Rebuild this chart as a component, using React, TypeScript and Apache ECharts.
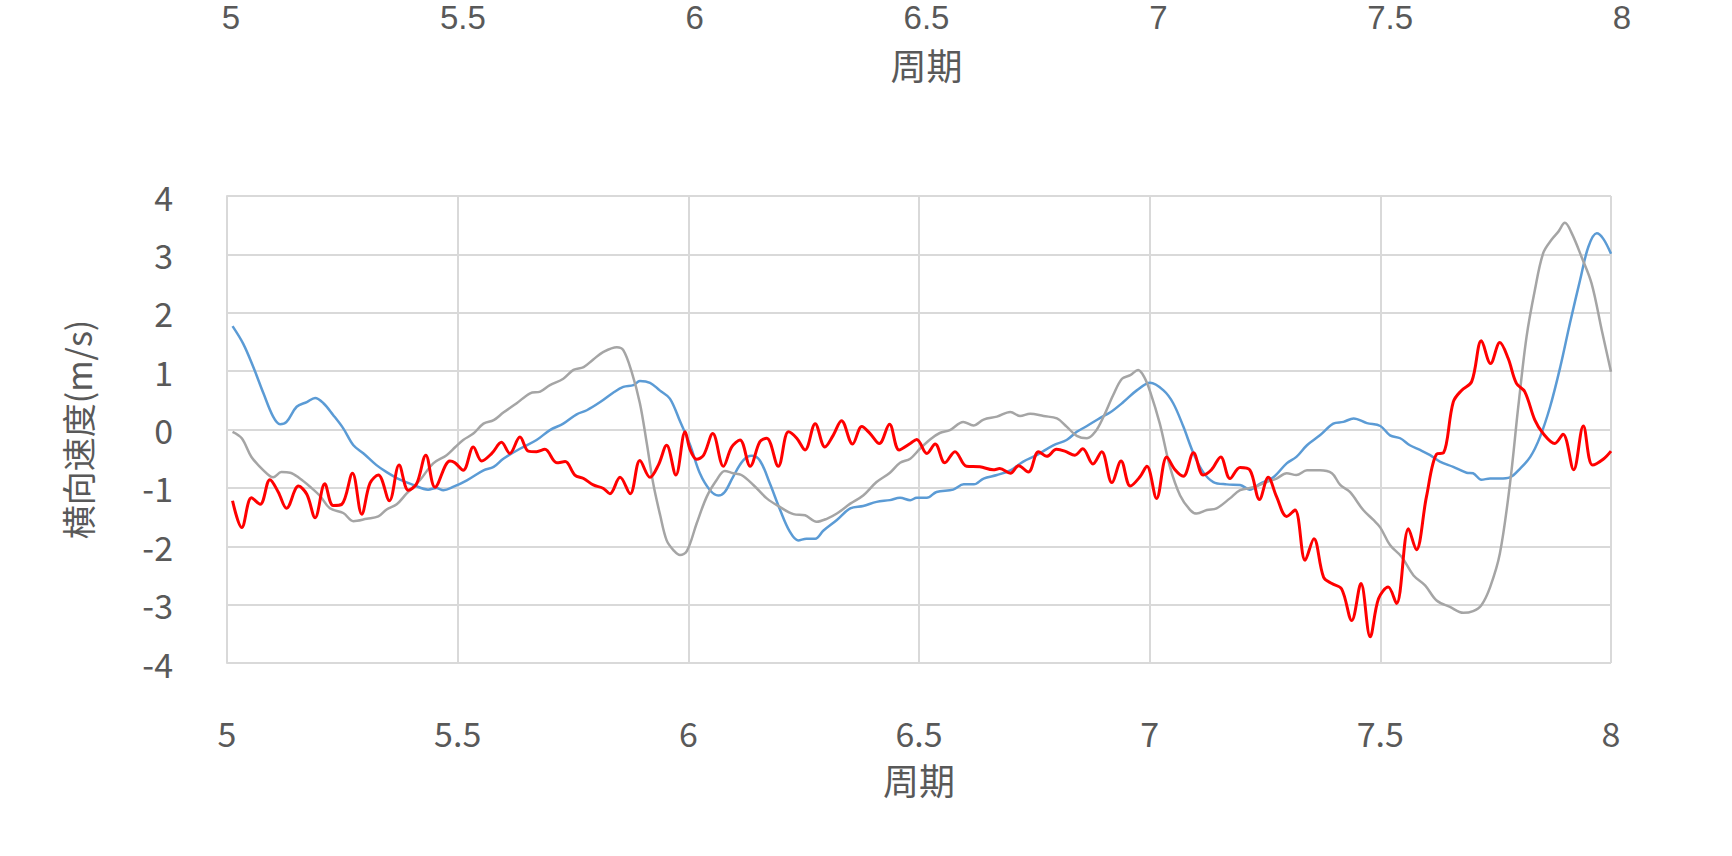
import { useEffect, useRef } from "react";
import * as echarts from "echarts";

const X_MIN = 5;
const X_MAX = 8;
const X_STEP = 0.5;
const Y_MIN = -4;
const Y_MAX = 4;
const Y_STEP = 1;
const xAxisTitle = "周期";
const yAxisTitle = "横向速度(m/s)";

const blueSeries: [number, number][] = [
  [5.012, 1.77], [5.035, 1.47], [5.057, 1.07], [5.079, 0.62], [5.1, 0.22], [5.115, 0.09], [5.129, 0.13],
  [5.151, 0.39], [5.173, 0.47], [5.191, 0.54], [5.209, 0.45], [5.23, 0.25], [5.252, 0.02], [5.274, -0.27],
  [5.296, -0.41], [5.324, -0.61], [5.346, -0.73], [5.375, -0.86], [5.404, -0.95], [5.436, -1.03],
  [5.454, -1.0], [5.469, -1.04], [5.491, -0.98], [5.52, -0.87], [5.556, -0.7], [5.578, -0.64],
  [5.599, -0.5], [5.635, -0.33], [5.671, -0.18], [5.7, -0.01], [5.729, 0.1], [5.758, 0.26], [5.78, 0.33],
  [5.809, 0.47], [5.837, 0.63], [5.859, 0.73], [5.881, 0.76], [5.895, 0.83], [5.917, 0.8], [5.938, 0.67],
  [5.96, 0.53], [5.982, 0.14], [6.004, -0.27], [6.025, -0.75], [6.047, -1.04], [6.065, -1.13],
  [6.079, -1.07], [6.097, -0.81], [6.119, -0.53], [6.137, -0.45], [6.155, -0.53], [6.177, -0.93],
  [6.199, -1.38], [6.22, -1.75], [6.238, -1.9], [6.256, -1.87], [6.275, -1.87], [6.293, -1.73],
  [6.322, -1.55], [6.351, -1.35], [6.379, -1.31], [6.408, -1.24], [6.437, -1.21], [6.459, -1.17],
  [6.481, -1.21], [6.495, -1.17], [6.517, -1.17], [6.538, -1.07], [6.574, -1.03], [6.597, -0.94],
  [6.619, -0.94], [6.64, -0.84], [6.669, -0.78], [6.698, -0.7], [6.726, -0.55], [6.755, -0.44],
  [6.791, -0.27], [6.82, -0.18], [6.842, -0.04], [6.864, 0.06], [6.893, 0.2], [6.914, 0.29],
  [6.943, 0.47], [6.972, 0.67], [7.001, 0.8], [7.03, 0.67], [7.051, 0.45], [7.073, 0.05], [7.095, -0.41],
  [7.116, -0.73], [7.138, -0.9], [7.167, -0.94], [7.196, -0.95], [7.217, -1.03], [7.239, -0.93],
  [7.268, -0.82], [7.297, -0.58], [7.318, -0.47], [7.341, -0.27], [7.369, -0.1], [7.398, 0.1],
  [7.42, 0.13], [7.442, 0.19], [7.471, 0.11], [7.5, 0.06], [7.521, -0.1], [7.543, -0.15], [7.564, -0.27],
  [7.586, -0.35], [7.608, -0.44], [7.629, -0.55], [7.658, -0.64], [7.687, -0.74], [7.701, -0.75],
  [7.719, -0.86], [7.738, -0.84], [7.759, -0.84], [7.781, -0.82], [7.803, -0.67], [7.825, -0.47],
  [7.846, -0.13], [7.868, 0.39], [7.89, 1.07], [7.911, 1.82], [7.933, 2.56], [7.951, 3.13],
  [7.969, 3.36], [7.983, 3.27], [8.0, 3.01],
];

const graySeries: [number, number][] = [
  [5.012, -0.04], [5.032, -0.15], [5.053, -0.47], [5.079, -0.7], [5.1, -0.82], [5.118, -0.73],
  [5.137, -0.74], [5.158, -0.84], [5.18, -0.98], [5.202, -1.14], [5.223, -1.35], [5.252, -1.43],
  [5.274, -1.57], [5.303, -1.53], [5.328, -1.49], [5.346, -1.37], [5.368, -1.28], [5.389, -1.1],
  [5.418, -0.87], [5.447, -0.58], [5.476, -0.44], [5.495, -0.3], [5.512, -0.18], [5.534, -0.07],
  [5.556, 0.1], [5.578, 0.16], [5.599, 0.29], [5.628, 0.45], [5.657, 0.62], [5.679, 0.65], [5.7, 0.76],
  [5.729, 0.87], [5.751, 1.02], [5.773, 1.07], [5.794, 1.2], [5.816, 1.33], [5.845, 1.41], [5.859, 1.36],
  [5.877, 0.99], [5.895, 0.45], [5.91, -0.24], [5.924, -0.93], [5.939, -1.47], [5.953, -1.9],
  [5.968, -2.07], [5.982, -2.15], [5.997, -2.08], [6.018, -1.61], [6.04, -1.15], [6.061, -0.87],
  [6.079, -0.71], [6.097, -0.75], [6.115, -0.78], [6.141, -0.95], [6.17, -1.18], [6.199, -1.33],
  [6.228, -1.45], [6.253, -1.47], [6.278, -1.58], [6.3, -1.53], [6.322, -1.44], [6.351, -1.27],
  [6.379, -1.13], [6.408, -0.9], [6.437, -0.74], [6.459, -0.57], [6.481, -0.5], [6.502, -0.33],
  [6.524, -0.17], [6.545, -0.06], [6.567, -0.01], [6.596, 0.13], [6.618, 0.07], [6.64, 0.17],
  [6.669, 0.22], [6.698, 0.3], [6.719, 0.23], [6.741, 0.27], [6.77, 0.23], [6.799, 0.19], [6.82, 0.05],
  [6.842, -0.11], [6.864, -0.15], [6.882, -0.04], [6.9, 0.22], [6.921, 0.59], [6.94, 0.87],
  [6.958, 0.93], [6.975, 1.02], [6.988, 0.9], [7.001, 0.65], [7.022, 0.1], [7.044, -0.64],
  [7.066, -1.13], [7.088, -1.38], [7.102, -1.44], [7.124, -1.38], [7.145, -1.35], [7.174, -1.18],
  [7.196, -1.04], [7.225, -0.99], [7.254, -0.9], [7.275, -0.84], [7.297, -0.75], [7.318, -0.78],
  [7.341, -0.7], [7.369, -0.7], [7.395, -0.75], [7.413, -0.95], [7.434, -1.07], [7.463, -1.38],
  [7.485, -1.55], [7.5, -1.68], [7.521, -1.98], [7.546, -2.18], [7.572, -2.5], [7.597, -2.67],
  [7.622, -2.93], [7.651, -3.04], [7.68, -3.14], [7.701, -3.11], [7.719, -3.01], [7.738, -2.7],
  [7.759, -2.13], [7.781, -0.93], [7.799, 0.39], [7.817, 1.59], [7.835, 2.39], [7.853, 3.02],
  [7.871, 3.25], [7.886, 3.39], [7.9, 3.54], [7.915, 3.36], [7.936, 2.96], [7.958, 2.5], [7.98, 1.7],
  [8.0, 0.99],
];

const redSeries: [number, number][] = [
  [5.012, -1.22], [5.032, -1.68], [5.053, -1.17], [5.072, -1.28], [5.093, -0.86], [5.111, -1.07],
  [5.129, -1.35], [5.155, -0.97], [5.173, -1.11], [5.191, -1.51], [5.212, -0.93], [5.23, -1.3],
  [5.249, -1.28], [5.272, -0.75], [5.292, -1.45], [5.31, -0.92], [5.328, -0.78], [5.352, -1.22],
  [5.373, -0.61], [5.393, -1.04], [5.411, -0.93], [5.431, -0.44], [5.451, -0.99], [5.483, -0.54],
  [5.494, -0.57], [5.512, -0.7], [5.534, -0.3], [5.552, -0.54], [5.574, -0.41], [5.595, -0.22],
  [5.613, -0.41], [5.635, -0.13], [5.653, -0.37], [5.671, -0.38], [5.689, -0.34], [5.715, -0.57],
  [5.733, -0.55], [5.754, -0.78], [5.773, -0.84], [5.794, -0.95], [5.816, -1.01], [5.83, -1.1],
  [5.852, -0.82], [5.874, -1.1], [5.895, -0.53], [5.917, -0.82], [5.935, -0.61], [5.953, -0.27],
  [5.973, -0.78], [5.993, -0.04], [6.004, -0.35], [6.018, -0.51], [6.033, -0.44], [6.053, -0.07],
  [6.076, -0.63], [6.094, -0.3], [6.112, -0.18], [6.134, -0.63], [6.155, -0.21], [6.17, -0.15],
  [6.195, -0.63], [6.217, -0.04], [6.235, -0.15], [6.253, -0.35], [6.275, 0.1], [6.296, -0.3],
  [6.314, -0.1], [6.332, 0.15], [6.356, -0.25], [6.376, 0.05], [6.394, -0.07], [6.414, -0.24],
  [6.436, 0.09], [6.457, -0.35], [6.481, -0.24], [6.495, -0.17], [6.517, -0.41], [6.535, -0.25],
  [6.556, -0.57], [6.578, -0.38], [6.603, -0.63], [6.632, -0.64], [6.661, -0.69], [6.675, -0.67],
  [6.698, -0.75], [6.716, -0.62], [6.737, -0.73], [6.759, -0.38], [6.777, -0.46], [6.798, -0.34],
  [6.816, -0.37], [6.838, -0.44], [6.855, -0.33], [6.877, -0.59], [6.896, -0.38], [6.918, -0.91],
  [6.938, -0.54], [6.958, -0.97], [6.979, -0.81], [6.994, -0.63], [7.015, -1.18], [7.037, -0.47],
  [7.055, -0.69], [7.073, -0.8], [7.095, -0.4], [7.116, -0.78], [7.134, -0.69], [7.154, -0.47],
  [7.174, -0.84], [7.196, -0.65], [7.217, -0.69], [7.238, -1.2], [7.257, -0.82], [7.275, -1.15],
  [7.297, -1.49], [7.315, -1.38], [7.337, -2.24], [7.356, -1.87], [7.377, -2.53], [7.395, -2.64],
  [7.416, -2.73], [7.438, -3.27], [7.458, -2.64], [7.478, -3.55], [7.496, -2.9], [7.517, -2.7],
  [7.535, -2.98], [7.561, -1.7], [7.578, -2.06], [7.6, -1.15], [7.622, -0.42], [7.637, -0.4],
  [7.658, 0.47], [7.676, 0.67], [7.698, 0.82], [7.719, 1.52], [7.739, 1.13], [7.759, 1.49],
  [7.777, 1.22], [7.795, 0.79], [7.813, 0.65], [7.835, 0.16], [7.853, -0.07], [7.878, -0.24],
  [7.896, -0.08], [7.919, -0.69], [7.94, 0.06], [7.96, -0.61], [7.983, -0.51], [8.0, -0.37],
];

const FONT = "'Noto Sans CJK SC', 'Noto Sans', sans-serif";
const TOP_LABEL_FONT = "'Liberation Sans', 'Noto Sans', sans-serif";
const TEXT = "#595959";
const GRID = "#D9D9D9";

export default function App() {
  const ref = useRef<HTMLDivElement>(null);
  useEffect(() => {
    if (!ref.current) return;
    const chart = echarts.init(ref.current, null, { renderer: "svg" });
    const xAxisCommon = {
      type: "value",
      min: X_MIN,
      max: X_MAX,
      interval: X_STEP,
      name: xAxisTitle,
      nameLocation: "middle",
      nameGap: 98,
      nameTextStyle: { fontSize: 36, color: TEXT, fontFamily: FONT },
      axisTick: { show: false },
      axisLabel: { fontSize: 34, color: TEXT, fontFamily: FONT, margin: 52 },
    };
    chart.setOption({
      animation: false,
      backgroundColor: "#ffffff",
      grid: [
        { left: 227, right: 121, top: 196, bottom: 193, containLabel: false },
        { left: 231, right: 110, top: -179, height: 100, containLabel: false },
      ],
      xAxis: [
        {
          ...xAxisCommon,
          gridIndex: 0,
          axisLine: { show: true, lineStyle: { color: GRID, width: 2 } },
          splitLine: { show: true, lineStyle: { color: GRID, width: 2 } },
        },
        {
          ...xAxisCommon,
          gridIndex: 1,
          nameGap: 100,
          axisLabel: { fontSize: 33, color: TEXT, fontFamily: TOP_LABEL_FONT, margin: 59, lineHeight: 24 },
          axisLine: { show: false },
          splitLine: { show: false },
        },
      ],
      yAxis: [
        {
          type: "value",
          gridIndex: 0,
          min: Y_MIN,
          max: Y_MAX,
          interval: Y_STEP,
          name: yAxisTitle,
          nameLocation: "middle",
          nameGap: 133,
          nameTextStyle: { fontSize: 34, color: TEXT, fontFamily: FONT },
          axisTick: { show: false },
          axisLine: { show: true, lineStyle: { color: GRID, width: 2 } },
          splitLine: { show: true, lineStyle: { color: GRID, width: 2 } },
          axisLabel: { fontSize: 34, color: TEXT, fontFamily: FONT, margin: 54 },
        },
        { type: "value", gridIndex: 1, min: 0, max: 1, show: false },
      ],
      series: [
        {
          name: "系列1",
          type: "line",
          xAxisIndex: 0,
          yAxisIndex: 0,
          data: blueSeries,
          showSymbol: false,
          smooth: 0.35,
          lineStyle: { color: "#5B9BD5", width: 2.5 },
          itemStyle: { color: "#5B9BD5" },
        },
        {
          name: "系列2",
          type: "line",
          xAxisIndex: 0,
          yAxisIndex: 0,
          data: graySeries,
          showSymbol: false,
          smooth: 0.35,
          lineStyle: { color: "#A5A5A5", width: 2.5 },
          itemStyle: { color: "#A5A5A5" },
        },
        {
          name: "系列3",
          type: "line",
          xAxisIndex: 0,
          yAxisIndex: 0,
          data: redSeries,
          showSymbol: false,
          smooth: 0.35,
          lineStyle: { color: "#FF0000", width: 3 },
          itemStyle: { color: "#FF0000" },
        },
      ],
    });
    return () => chart.dispose();
  }, []);
  return (
    <div
      ref={ref}
      style={{ position: "fixed", left: 0, top: 0, width: 1732, height: 856, background: "#fff" }}
    />
  );
}
